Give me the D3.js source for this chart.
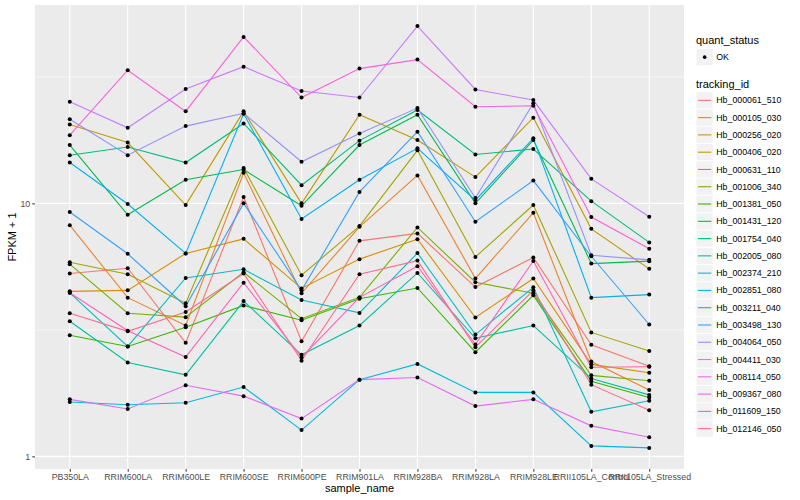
<!DOCTYPE html>
<html>
<head>
<meta charset="utf-8">
<script src="https://cdn.jsdelivr.net/npm/d3@7"></script>
<style>
  body { margin: 0; background: #fff; }
  text { font-family: "Liberation Sans", Arial, sans-serif; }
</style>
</head>
<body>
<div id="chart"></div>
<script>
// Samples on the x axis
var samples = ["PB350LA", "RRIM600LA", "RRIM600LE", "RRIM600SE", "RRIM600PE", "RRIM901LA",
    "RRIM928BA", "RRIM928LA", "RRIM928LE", "RRII105LA_Control", "RRII105LA_Stressed"];

var trackingIds = ["Hb_000061_510", "Hb_000105_030", "Hb_000256_020", "Hb_000406_020", "Hb_000631_110",
    "Hb_001006_340", "Hb_001381_050", "Hb_001431_120", "Hb_001754_040", "Hb_002005_080",
    "Hb_002374_210", "Hb_002851_080", "Hb_003211_040", "Hb_003498_130", "Hb_004064_050",
    "Hb_004411_030", "Hb_008114_050", "Hb_009367_080", "Hb_011609_150", "Hb_012146_050"];

// FPKM + 1 per gene, one value per sample
var hb000061_510 = [5.28, 5.54, 2.81, 10.6, 2.85, 7.11, 7.61, 4.67, 6.11, 2.76, 2.27];
var hb000105_030 = [8.20, 4.24, 3.29, 13.2, 4.41, 8.08, 12.9, 5.05, 9.18, 2.37, 1.83];
var hb000256_020 = [4.49, 4.53, 6.34, 7.24, 4.61, 6.02, 7.22, 3.54, 5.05, 2.31, 2.14];
var hb000406_020 = [20.5, 17.4, 9.85, 23.1, 10.0, 22.4, 17.8, 12.7, 21.8, 7.93, 5.51];
var hb000631_110 = [5.85, 5.25, 4.03, 13.8, 5.20, 8.13, 16.2, 6.14, 9.85, 3.09, 2.61];
var hb001006_340 = [5.75, 3.68, 3.55, 5.34, 3.50, 4.25, 8.03, 4.88, 4.41, 2.09, 1.99];
var hb001381_050 = [3.01, 2.72, 3.24, 3.95, 3.45, 4.20, 4.63, 2.58, 4.33, 1.98, 1.71];
var hb001431_120 = [17.0, 9.01, 12.4, 13.6, 9.78, 17.0, 22.4, 10.0, 17.8, 5.78, 5.91];
var hb001754_040 = [15.5, 16.7, 14.5, 20.7, 11.8, 17.7, 23.4, 15.6, 16.4, 10.2, 7.01];
var hb002005_080 = [3.42, 2.35, 2.10, 4.11, 2.52, 3.29, 5.31, 2.93, 3.29, 2.03, 1.75];
var hb002374_210 = [4.43, 2.72, 5.07, 5.49, 4.15, 3.69, 6.36, 3.03, 4.66, 1.50, 1.66];
var hb002851_080 = [1.64, 1.60, 1.63, 1.88, 1.27, 2.01, 2.32, 1.79, 1.79, 1.10, 1.08];
var hb003211_040 = [14.5, 9.94, 6.34, 22.6, 8.67, 12.4, 16.5, 10.3, 18.1, 4.24, 4.36];
var hb003498_130 = [9.24, 6.32, 3.92, 10.0, 4.53, 11.1, 19.2, 8.46, 12.3, 6.18, 3.32];
var hb004064_050 = [21.5, 15.5, 20.2, 22.7, 14.6, 18.9, 23.8, 10.5, 24.9, 6.24, 5.98];
var hb004411_030 = [25.2, 19.9, 28.3, 34.7, 27.8, 26.2, 50.2, 28.2, 25.6, 12.5, 8.85];
var hb008114_050 = [1.68, 1.54, 1.91, 1.73, 1.41, 2.01, 2.05, 1.58, 1.68, 1.32, 1.19];
var hb009367_080 = [18.6, 33.6, 23.1, 45.5, 26.2, 34.1, 37.0, 24.1, 24.3, 8.83, 6.61];
var hb011609_150 = [4.43, 3.14, 2.47, 4.86, 2.46, 4.25, 5.64, 2.77, 5.92, 2.25, 2.26];
var hb012146_050 = [3.68, 3.12, 3.72, 5.28, 2.39, 5.25, 5.94, 2.70, 4.53, 1.92, 1.52];

var seriesValues = [hb000061_510, hb000105_030, hb000256_020, hb000406_020, hb000631_110,
    hb001006_340, hb001381_050, hb001431_120, hb001754_040, hb002005_080,
    hb002374_210, hb002851_080, hb003211_040, hb003498_130, hb004064_050,
    hb004411_030, hb008114_050, hb009367_080, hb011609_150, hb012146_050];

// ggplot hue palette for 20 levels
var hueColors = ["#F8766D", "#EA8331", "#D89000", "#C09B00", "#A3A500", "#7CAE00", "#39B600",
    "#00BB4E", "#00BF7D", "#00C1A3", "#00BFC4", "#00BAE0", "#00B0F6", "#35A2FF", "#9590FF",
    "#C77CFF", "#E76BF3", "#FA62DB", "#FF62BC", "#FF6C91"];

var yTicks = [1, 10, 100];

var series = trackingIds.map(function(id, i) {
    return {
        id: id,
        values: samples.map(function(s, j) { return { sample: s, value: seriesValues[i][j] }; })
    };
});

// Panel box
var panel = {left: 35, right: 684, top: 5, bottom: 469};

var svg = d3.select("#chart").append("svg")
    .attr("width", 800)
    .attr("height", 500);

var x = d3.scalePoint()
    .domain(samples)
    .range([panel.left, panel.right])
    .padding(0.6);

// Log scale with 5% expansion in log space
var allValues = d3.merge(seriesValues);
var lo = Math.log10(d3.min(allValues)),
    hi = Math.log10(d3.max(allValues)),
    pad = (hi - lo) * 0.05;
var y = d3.scaleLog()
    .domain([Math.pow(10, lo - pad), Math.pow(10, hi + pad)])
    .range([panel.bottom, panel.top]);

var color = d3.scaleOrdinal().domain(trackingIds).range(hueColors);

// Background
svg.append("rect")
    .attr("x", panel.left)
    .attr("y", panel.top)
    .attr("width", panel.right - panel.left)
    .attr("height", panel.bottom - panel.top)
    .attr("fill", "#EBEBEB");

var yMajor = yTicks.filter(function(t) { return t >= y.domain()[0] && t <= y.domain()[1]; });
var yMinor = [0.1, 1, 10, 100].map(function(t) { return t * Math.sqrt(10); })
    .filter(function(t) { return t >= y.domain()[0] && t <= y.domain()[1]; });

svg.selectAll("line.minor")
    .data(yMinor)
    .enter().append("line")
    .attr("class", "minor")
    .attr("x1", panel.left).attr("x2", panel.right)
    .attr("y1", function(d) { return y(d); })
    .attr("y2", function(d) { return y(d); })
    .attr("stroke", "#fff")
    .attr("stroke-width", 0.55);

svg.selectAll("line.majorY")
    .data(yMajor)
    .enter().append("line")
    .attr("class", "majorY")
    .attr("x1", panel.left).attr("x2", panel.right)
    .attr("y1", function(d) { return y(d); })
    .attr("y2", function(d) { return y(d); })
    .attr("stroke", "#fff")
    .attr("stroke-width", 1.1);

svg.selectAll("line.majorX")
    .data(samples)
    .enter().append("line")
    .attr("class", "majorX")
    .attr("x1", function(d) { return x(d); })
    .attr("x2", function(d) { return x(d); })
    .attr("y1", panel.top).attr("y2", panel.bottom)
    .attr("stroke", "#fff")
    .attr("stroke-width", 1.1);

// Axes
var xAxis = svg.append("g")
    .attr("transform", "translate(0," + panel.bottom + ")")
    .call(d3.axisBottom(x).tickSize(2.75).tickPadding(2));

var yAxis = svg.append("g")
    .attr("transform", "translate(" + panel.left + ",0)")
    .call(d3.axisLeft(y).tickValues(yMajor).tickFormat(d3.format("d")).tickSize(2.75).tickPadding(2));

[xAxis, yAxis].forEach(function(g) {
    g.select(".domain").remove();
    g.selectAll(".tick line").attr("stroke", "#333");
    g.selectAll(".tick text")
        .attr("fill", "#4D4D4D")
        .style("font-size", "8.8px")
        .style("font-family", "'Liberation Sans', Arial, sans-serif");
});

// Lines
var line = d3.line()
    .x(function(d) { return x(d.sample); })
    .y(function(d) { return y(d.value); });

svg.selectAll("path.gene")
    .data(series)
    .enter().append("path")
    .attr("class", "gene")
    .attr("d", function(d) { return line(d.values); })
    .attr("fill", "none")
    .attr("stroke", function(d) { return color(d.id); })
    .attr("stroke-width", 1.1);

// Points
svg.selectAll("g.pts")
    .data(series)
    .enter().append("g")
    .attr("class", "pts")
    .selectAll("circle")
    .data(function(d) { return d.values; })
    .enter().append("circle")
    .attr("cx", function(d) { return x(d.sample); })
    .attr("cy", function(d) { return y(d.value); })
    .attr("r", 2)
    .attr("fill", "#000");

// Axis titles
svg.append("text")
    .attr("x", (panel.left + panel.right) / 2)
    .attr("y", 492)
    .attr("text-anchor", "middle")
    .style("font-size", "11px")
    .text("sample_name");

svg.append("text")
    .attr("transform", "translate(16," + ((panel.top + panel.bottom) / 2) + ") rotate(-90)")
    .attr("text-anchor", "middle")
    .style("font-size", "11px")
    .text("FPKM + 1");

// Legends
var legend = svg.append("g").attr("transform", "translate(696,0)");
var keySize = 17.28;

legend.append("text")
    .attr("x", 0).attr("y", 44)
    .style("font-size", "11px")
    .text("quant_status");

legend.append("rect")
    .attr("x", 0.5).attr("y", 49)
    .attr("width", keySize - 1).attr("height", keySize - 1)
    .attr("fill", "#F2F2F2");

legend.append("circle")
    .attr("cx", keySize / 2).attr("cy", 49 + keySize / 2 - 0.5)
    .attr("r", 1.8)
    .attr("fill", "#000");

legend.append("text")
    .attr("x", keySize + 3).attr("y", 49 + keySize / 2 - 0.5)
    .attr("dy", "0.35em")
    .style("font-size", "8.8px")
    .text("OK");

legend.append("text")
    .attr("x", 0).attr("y", 88)
    .style("font-size", "11px")
    .text("tracking_id");

var keys = legend.selectAll("g.key")
    .data(trackingIds)
    .enter().append("g")
    .attr("class", "key")
    .attr("transform", function(d, i) { return "translate(0," + (91.7 + i * keySize) + ")"; });

keys.append("rect")
    .attr("x", 0.5).attr("y", 0.5)
    .attr("width", keySize - 1).attr("height", keySize - 1)
    .attr("fill", "#F2F2F2");

keys.append("line")
    .attr("x1", 2).attr("x2", keySize - 2)
    .attr("y1", keySize / 2).attr("y2", keySize / 2)
    .attr("stroke", function(d) { return color(d); })
    .attr("stroke-width", 1.1);

keys.append("text")
    .attr("x", keySize + 3).attr("y", keySize / 2)
    .attr("dy", "0.35em")
    .style("font-size", "8.8px")
    .text(function(d) { return d; });
</script>
</body>
</html>
